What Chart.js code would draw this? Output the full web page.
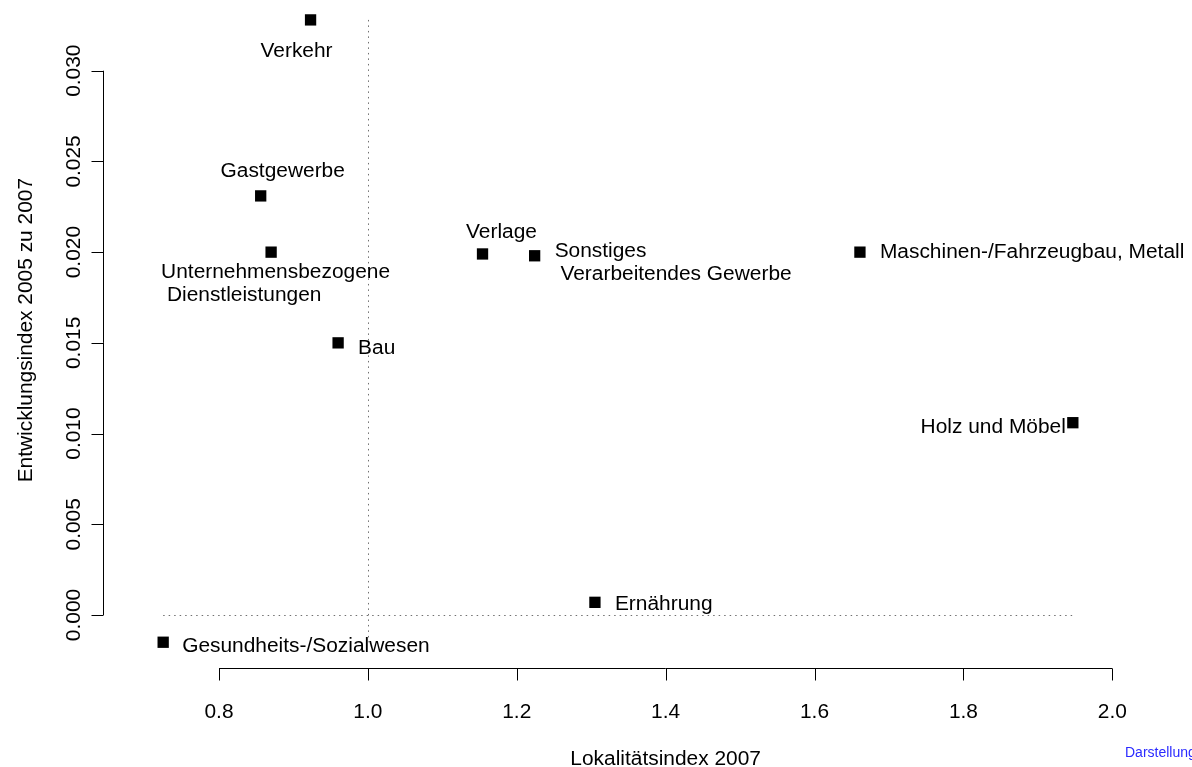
<!DOCTYPE html>
<html>
<head>
<meta charset="utf-8">
<script src="https://cdn.jsdelivr.net/npm/chart.js@4.4.1/dist/chart.umd.min.js"></script>
<style>
  html, body { margin: 0; padding: 0; background: #fff; }
  canvas { display: block; }
</style>
</head>
<body>
<canvas id="chart" width="1192" height="767"></canvas>
<script>
// values
const sectors = [
  "Verkehr",
  "Gastgewerbe",
  "Unternehmensbezogene\n Dienstleistungen",
  "Bau",
  "Verlage",
  "Sonstiges\n Verarbeitendes Gewerbe",
  "Maschinen-/Fahrzeugbau, Metall",
  "Holz und Möbel",
  "Ernährung",
  "Gesundheits-/Sozialwesen"
];
const lokalitaet = [0.923, 0.856, 0.870, 0.960, 1.154, 1.224, 1.661, 1.947, 1.305, 0.725];
const entwicklung = [0.0328, 0.0231, 0.0200, 0.0150, 0.0199, 0.0198, 0.0200, 0.0106, 0.0007, -0.0015];

const xTicks = [0.8, 1.0, 1.2, 1.4, 1.6, 1.8, 2.0];
const yTicks = [0.000, 0.005, 0.010, 0.015, 0.020, 0.025, 0.030];
const xTitle = "Lokalitätsindex 2007";
const yTitle = "Entwicklungsindex 2005 zu 2007";
const sourceNote = "Darstellung";

// where each label sits relative to its point (px, baseline of first line)
const labelOffsets = [
  { dx: -14, dy: 37, align: "center" },
  { dx: 22, dy: -19, align: "center" },
  { dx: -110, dy: 26, align: "left" },
  { dx: 20, dy: 11, align: "left" },
  { dx: 19, dy: -16, align: "center" },
  { dx: 20, dy: 1, align: "left" },
  { dx: 20, dy: 6, align: "left" },
  { dx: -7, dy: 10, align: "right" },
  { dx: 20, dy: 8, align: "left" },
  { dx: 19, dy: 10, align: "left" }
];

const FONT = '20px "Liberation Sans", Arial, sans-serif';
const STRETCH = 1.045; // the original glyphs run a bit wider than Arial
const lineGap = 23;

// text drawn at (x, y), optionally rotated, slightly widened
function text(ctx, str, x, y, rot) {
  ctx.save();
  ctx.translate(x, y);
  if (rot) ctx.rotate(rot);
  ctx.scale(STRETCH, 1);
  ctx.fillText(str, 0, 0);
  ctx.restore();
}

// R-style axes, ticks, titles, labels, dotted reference lines
const rPlot = {
  id: "rPlot",
  beforeDatasetsDraw(chart) {
    const { ctx, scales: { x, y } } = chart;
    const xmin = Math.min(...lokalitaet), xmax = Math.max(...lokalitaet);
    const ymin = Math.min(...entwicklung), ymax = Math.max(...entwicklung);
    ctx.save();
    ctx.strokeStyle = "#707070";
    ctx.lineWidth = 1;
    ctx.setLineDash([1.5, 4]);
    ctx.beginPath();
    ctx.moveTo(Math.round(x.getPixelForValue(1)) + 0.5, y.getPixelForValue(ymax));
    ctx.lineTo(Math.round(x.getPixelForValue(1)) + 0.5, y.getPixelForValue(ymin));
    ctx.moveTo(x.getPixelForValue(xmin), Math.round(y.getPixelForValue(0)) + 0.5);
    ctx.lineTo(x.getPixelForValue(xmax), Math.round(y.getPixelForValue(0)) + 0.5);
    ctx.stroke();
    ctx.restore();
  },
  afterDraw(chart) {
    const { ctx, chartArea, scales: { x, y } } = chart;
    const axX = Math.round(chartArea.left) + 0.5;
    const axY = Math.round(chartArea.bottom) + 0.5;
    ctx.save();
    ctx.strokeStyle = "#000";
    ctx.fillStyle = "#000";
    ctx.lineWidth = 1;
    ctx.font = FONT;

    // x axis
    ctx.beginPath();
    ctx.moveTo(x.getPixelForValue(xTicks[0]), axY);
    ctx.lineTo(x.getPixelForValue(xTicks[xTicks.length - 1]), axY);
    xTicks.forEach(t => {
      const px = Math.round(x.getPixelForValue(t)) + 0.5;
      ctx.moveTo(px, axY);
      ctx.lineTo(px, axY + 12);
    });
    ctx.stroke();
    ctx.textAlign = "center";
    ctx.textBaseline = "alphabetic";
    xTicks.forEach(t => text(ctx, t.toFixed(1), x.getPixelForValue(t), axY + 49));
    text(ctx, xTitle, x.getPixelForValue(1.4), axY + 96);

    // y axis
    ctx.beginPath();
    ctx.moveTo(axX, y.getPixelForValue(yTicks[0]));
    ctx.lineTo(axX, y.getPixelForValue(yTicks[yTicks.length - 1]));
    yTicks.forEach(t => {
      const py = Math.round(y.getPixelForValue(t)) + 0.5;
      ctx.moveTo(axX, py);
      ctx.lineTo(axX - 12, py);
    });
    ctx.stroke();
    yTicks.forEach(t => text(ctx, t.toFixed(3), axX - 23.5, y.getPixelForValue(t), -Math.PI / 2));
    text(ctx, yTitle, 32, y.getPixelForValue(0.0157), -Math.PI / 2);

    // point labels
    sectors.forEach((name, i) => {
      const off = labelOffsets[i];
      const px = x.getPixelForValue(lokalitaet[i]);
      const py = y.getPixelForValue(entwicklung[i]);
      ctx.textAlign = off.align;
      name.split("\n").forEach((line, j) => {
        text(ctx, line, px + off.dx, py + off.dy + j * lineGap);
      });
    });

    // source note, cut at the right edge
    ctx.fillStyle = "#2a2aff";
    ctx.font = '14px "Liberation Sans", Arial, sans-serif';
    ctx.textAlign = "left";
    ctx.fillText(sourceNote, 1125, 757);
    ctx.restore();
  }
};

new Chart(document.getElementById("chart"), {
  type: "scatter",
  data: {
    datasets: [{
      data: lokalitaet.map((v, i) => ({ x: v, y: entwicklung[i] })),
      pointStyle: "rect",
      pointRadius: 8,
      pointHoverRadius: 8,
      backgroundColor: "#000",
      borderWidth: 0
    }]
  },
  options: {
    responsive: false,
    animation: false,
    clip: false,
    layout: { padding: { left: 103, right: 43, top: 10, bottom: 99 } },
    scales: {
      x: { type: "linear", display: false, min: 0.64417, max: 2.04932 },
      y: { type: "linear", display: false, min: -0.00292, max: 0.033346 }
    },
    plugins: {
      legend: { display: false },
      tooltip: { enabled: false }
    }
  },
  plugins: [rPlot]
});
</script>
</body>
</html>
